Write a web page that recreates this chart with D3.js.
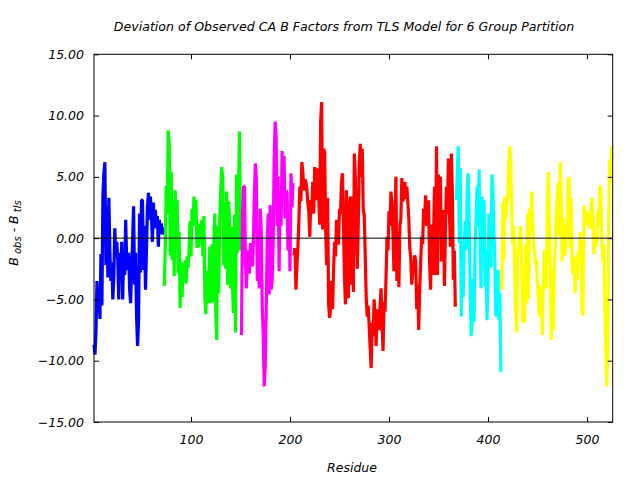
<!DOCTYPE html>
<html>
<head>
<meta charset="utf-8">
<script src="https://cdn.jsdelivr.net/npm/d3@7"></script>
<style>
    body { margin: 0; background: #fff; }
    text { font-family: "DejaVu Sans", sans-serif; font-style: italic; }
</style>
</head>
<body>
<svg width="640" height="480"></svg>
<script>
// residue groups of the TLS partition (first residue + one value per residue)
let group_names = ["A", "B", "C", "D", "E", "F"];
let group_colors = ["#0000ff", "#00ff00", "#ff00ff", "#ff0000", "#00ffff", "#ffff00"];
let group_starts = [2, 73, 151, 204, 368, 414];

let dev_blue = [-8.7, -9.5, -7.6, -3.5, -6.0, -4.3, -6.6, -1.3, -5.5, 3.5,
    5.3, 6.2, -2.2, 2.6, -3.2, 3.3, -1.0, -3.5, -2.0, -5.0,
    -3.3, 0.8, -1.5, -0.3, -1.8, -5.0, -1.2, -3.5, -0.3, -5.0,
    -1.0, -3.0, 1.5, -1.8, -2.6, -1.2, -4.2, -5.3, -2.5, -0.1,
    2.6, -3.8, -1.2, -6.4, -8.8, -6.8, 2.0, -2.8, 3.1, 3.1,
    -2.6, 1.0, -4.2, -1.0, 2.6, 3.7, 1.5, 3.4, 2.0, -0.3,
    2.9, 0.8, 2.3, 1.0, 1.8, -0.7, 1.5, 0.4, 1.2, 0.3, 0.9];

let dev_green = [-3.9, -0.8, 4.3, 2.0, 8.8, 7.8, -1.4, 5.4, -1.8, 3.0,
    -3.1, 3.9, 1.0, 3.1, -2.9, 0.5, -5.7, -2.0, -4.8, -2.0,
    -3.5, -1.8, -3.7, -1.5, -2.4, -1.1, 1.4, -1.5, 2.4, 1.0,
    3.4, 1.5, 3.1, -0.8, 1.0, -0.7, 1.2, 0.5, 1.5, -1.5,
    1.8, -4.8, -6.2, -2.7, -5.3, -3.0, -0.7, -5.3, -0.5, -5.2,
    -1.0, 2.0, -6.0, -8.3, 1.0, -4.5, 1.2, 3.9, 5.8, 5.0,
    -2.2, 2.9, -2.5, 3.8, -3.8, 3.0, 1.2, -4.1, 0.9, -4.2,
    -6.1, 1.9, -7.7, 5.2, -1.2, 4.0, 8.7, -1.0];

let dev_magenta = [-7.9, 1.9, 4.2, 4.2, -1.9, -4.1, -1.0, -2.0, -2.9, -0.4,
    -1.2, -2.3, -0.4, 3.5, 6.1, 4.8, -3.5, -1.0, -4.1, 2.4,
    0.5, -5.6, -8.0, -12.1, -10.5, -5.6, -0.4, 2.0, -4.6, 2.7,
    -4.2, -3.4, -0.3, 6.4, 9.5, 8.3, 1.0, 5.0, -2.7, 3.9,
    1.0, 7.1, 4.0, 6.7, 1.6, 3.9, 3.7, -1.0, 2.0, -2.7,
    5.3, 2.5, 4.5];

let dev_red = [-1.4, -0.8, -4.2, -2.3, -0.7, 1.5, 4.2, 3.0, 6.2, 5.3,
    3.9, 4.8, 4.6, 4.0, 2.9, 2.2, 0.1, 3.1, 2.0, 4.6,
    2.0, 5.8, 4.8, 3.1, 5.7, 3.5, 1.1, 9.6, 11.1, 0.7,
    7.3, 7.0, 0.8, -2.2, 3.3, -5.4, -6.5, -5.8, -3.5, -5.8,
    -2.7, -0.3, -1.5, 1.5, -0.3, -0.5, 2.4, 2.0, 4.6, 5.3,
    1.0, -3.0, -5.4, 3.9, -0.5, -4.9, 2.6, 3.4, -3.8, 3.4,
    -4.4, 6.9, 5.0, 1.5, -2.5, 1.2, 6.1, 7.7, 5.0, 7.3,
    2.3, 1.9, -1.4, -4.9, -6.4, -5.5, -7.2, -9.0, -10.6, -6.9,
    -8.0, -5.0, -6.5, -8.8, -5.8, -6.5, -7.5, -5.5, -4.1, -7.0,
    -9.2, -5.2, -6.0, -3.3, 0.1, -1.0, 2.2, 1.0, 3.8, 2.9,
    0.5, -2.7, 1.0, 5.0, -3.5, 0.5, -4.0, 1.0, 1.6, 4.9,
    3.0, 3.4, 4.6, 3.2, 4.2, 3.0, 1.6, -0.8, -1.6, -3.8,
    -2.8, -2.3, -1.4, -1.9, -5.8, -3.8, -7.5, -4.2, -2.0, 0.1,
    -0.5, 2.4, 1.5, 3.5, 1.0, 2.5, 3.1, -1.9, -4.2, 1.1,
    -3.0, 0.0, 4.2, -3.0, 7.5, -3.0, 5.2, 1.0, 5.0, -1.9,
    -1.0, 2.3, -3.9, 0.5, 4.2, 2.0, 6.5, 2.3, -0.7, 6.9,
    4.0, -3.4, -1.0, -5.6];

let dev_cyan = [3.1, 5.4, 7.5, -0.4, 5.7, -6.4, -0.7, -4.8, -0.7, 1.4,
    -1.0, 4.1, 5.3, 1.5, -3.9, -8.0, -7.0, -3.3, -6.8, -0.3,
    1.5, 4.2, 1.0, 5.6, 0.0, -4.1, 3.4, -1.0, 3.1, -3.9,
    -1.0, -6.7, -3.8, 2.0, -1.0, -2.4, 5.2, 3.9, 0.5, -2.0,
    -6.4, -4.0, -2.6, -6.7, -4.5, -10.9];

let dev_yellow = [-4.2, 2.9, -1.8, 3.4, 1.5, 2.7, 3.4, 6.0, 7.5, 6.4,
    2.0, -0.5, 1.0, -2.7, -6.1, -7.7, -1.5, -0.5, 0.3, 1.0,
    -2.0, -6.9, -4.5, -6.9, -0.5, -5.3, 2.0, -4.9, 2.4, 0.5,
    3.8, 1.6, -0.5, -1.2, -2.2, -1.8, -3.7, -5.0, -6.4, -3.9,
    -5.0, -7.9, -2.7, -1.0, -3.0, -4.1, 3.0, 5.4, 2.0, -3.3,
    -8.3, -2.6, -7.5, -2.6, -0.5, 1.6, 3.5, 4.5, 0.2, 6.2,
    3.4, -1.9, 1.6, -1.0, -1.4, 1.0, 0.1, 4.9, 4.9, -0.8,
    3.3, -2.0, -3.0, -1.5, -4.5, -2.5, -3.4, -1.1, -1.5, 0.5,
    -1.5, -6.0, -6.3, 2.7, 1.0, 2.2, 2.0, 1.9, 1.0, 0.8,
    2.5, 3.3, 1.8, -1.3, 0.1, -0.7, 0.0, 2.2, 1.0, 4.3,
    3.9, 0.0, -1.9, -0.5, -4.9, -9.0, -12.1, -9.5, 1.4, 6.4,
    4.5, 7.5, 6.5];

let group_values = [dev_blue, dev_green, dev_magenta, dev_red, dev_cyan, dev_yellow];

let x_ticks = [100, 200, 300, 400, 500];
let y_ticks = [-15, -10, -5, 0, 5, 10, 15];

let plot_left = 94, plot_right = 612.7, plot_top = 54.3, plot_bottom = 422;

var svg = d3.select("svg");

var x = d3.scaleLinear().domain([2, 526]).range([plot_left, plot_right]);
var y = d3.scaleLinear().domain([-15, 15]).range([plot_bottom, plot_top]);

// build points for every group
let groups = [];
for (let g = 0; g < group_names.length; g++) {
    let pts = [];
    for (let i = 0; i < group_values[g].length; i++) {
        pts.push({ res: group_starts[g] + i, dev: group_values[g][i] });
    }
    groups.push({ name: group_names[g], color: group_colors[g], points: pts });
}

var line = d3.line()
    .x(function (d) { return x(d.res); })
    .y(function (d) { return y(d.dev); });

svg.selectAll(".group")
    .data(groups)
    .enter()
    .append("path")
    .attr("class", "group")
    .attr("d", function (d) { return line(d.points); })
    .style("fill", "none")
    .style("stroke", function (d) { return d.color; })
    .style("stroke-width", 3.2)
    .style("stroke-linejoin", "bevel");

// zero line
svg.append("line")
    .attr("x1", plot_left).attr("x2", plot_right)
    .attr("y1", y(0)).attr("y2", y(0))
    .style("stroke", "black")
    .style("stroke-width", 1);

// axes, ticks inward and mirrored like gnuplot
var tick_len = 5;
svg.append("g")
    .attr("transform", "translate(0," + plot_bottom + ")")
    .call(d3.axisBottom(x).tickValues(x_ticks).tickSizeInner(-tick_len).tickSizeOuter(0).tickPadding(13))
    .call(function (g) { g.select(".domain").remove(); });

svg.append("g")
    .attr("transform", "translate(0," + plot_top + ")")
    .call(d3.axisTop(x).tickValues(x_ticks).tickSizeInner(-tick_len).tickSizeOuter(0).tickFormat(""))
    .call(function (g) { g.select(".domain").remove(); });

svg.append("g")
    .attr("transform", "translate(" + plot_left + ",0)")
    .call(d3.axisLeft(y).tickValues(y_ticks).tickSizeInner(-tick_len).tickSizeOuter(0).tickPadding(10).tickFormat(d3.format(".2f")))
    .call(function (g) { g.select(".domain").remove(); });

svg.append("g")
    .attr("transform", "translate(" + plot_right + ",0)")
    .call(d3.axisRight(y).tickValues(y_ticks).tickSizeInner(-tick_len).tickSizeOuter(0).tickFormat(""))
    .call(function (g) { g.select(".domain").remove(); });

svg.selectAll(".tick text")
    .style("font-family", "DejaVu Sans, sans-serif")
    .style("font-style", "italic")
    .style("font-size", "12.5px")
    .style("fill", "black");
svg.selectAll(".tick line").style("stroke", "black");

// frame
svg.append("rect")
    .attr("x", plot_left).attr("y", plot_top)
    .attr("width", plot_right - plot_left).attr("height", plot_bottom - plot_top)
    .style("fill", "none")
    .style("stroke", "black")
    .style("stroke-width", 1);

// labels
svg.append("text")
    .attr("x", 344).attr("y", 31)
    .style("text-anchor", "middle")
    .style("font-size", "12.6px")
    .text("Deviation of Observed CA B Factors from TLS Model for 6 Group Partition");

svg.append("text")
    .attr("x", 352).attr("y", 472)
    .style("text-anchor", "middle")
    .style("font-size", "12.5px")
    .text("Residue");

var ylab = svg.append("text")
    .attr("transform", "translate(18,233) rotate(-90)")
    .style("text-anchor", "middle")
    .style("font-size", "12.5px");
ylab.append("tspan").text("B");
ylab.append("tspan").attr("dy", 3).style("font-size", "10px").text(" obs");
ylab.append("tspan").attr("dy", -3).text("  -  B");
ylab.append("tspan").attr("dy", 3).style("font-size", "10px").text(" tls");
</script>
</body>
</html>
